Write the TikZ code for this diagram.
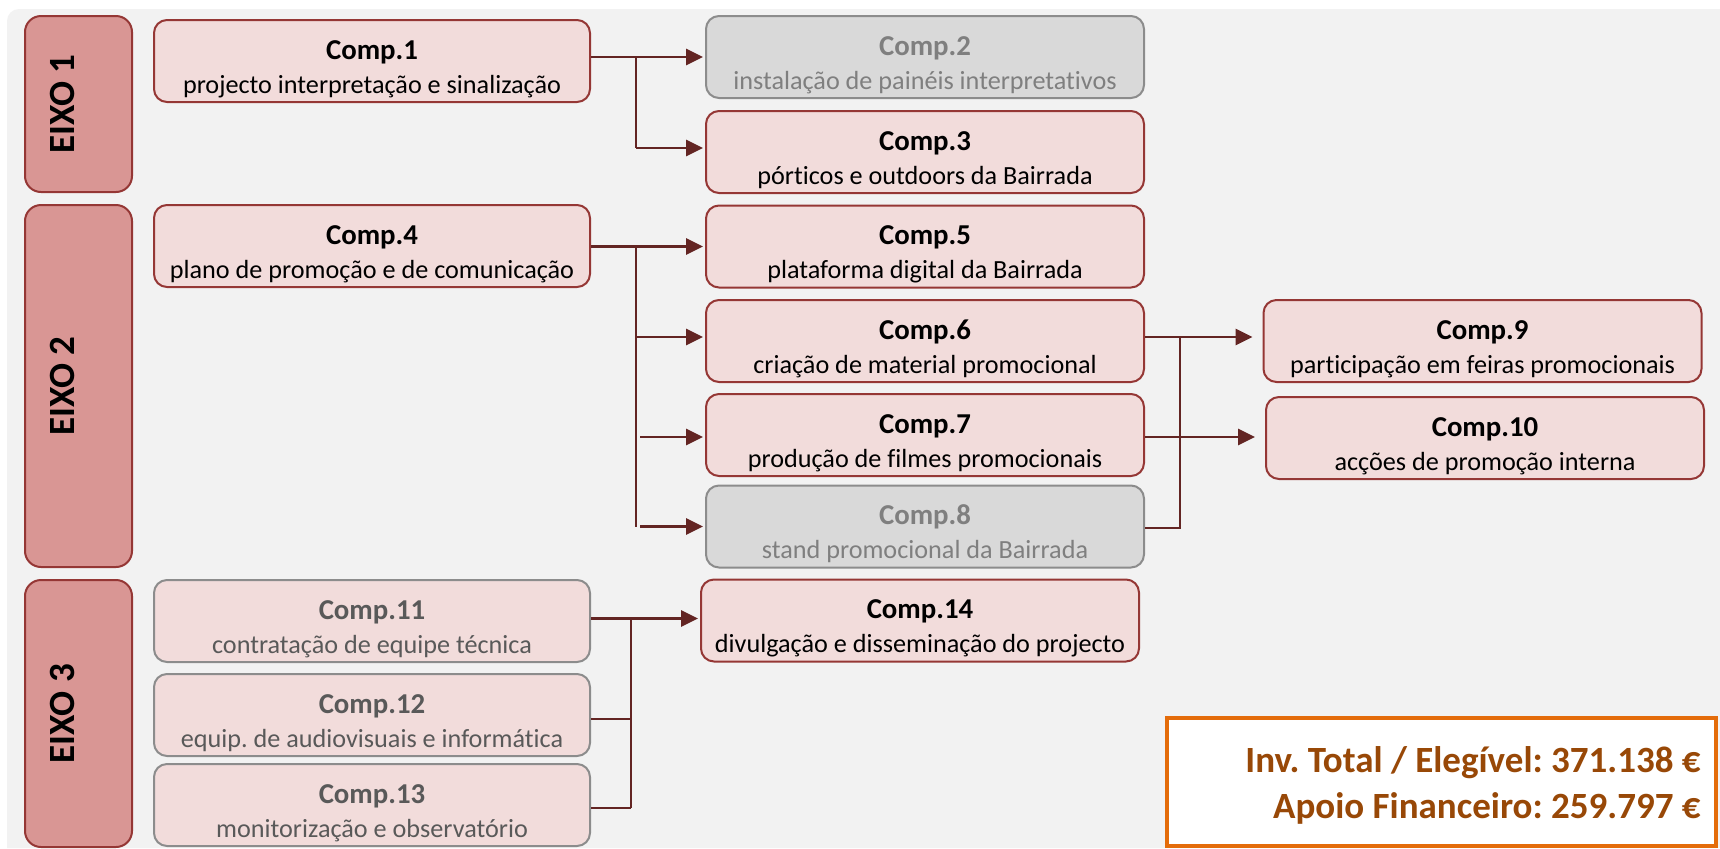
\documentclass[tikz,border=0pt]{standalone}
\usepackage{fontspec}
\setmainfont{Carlito}[Ligatures=CommonOff]
\frenchspacing
\usetikzlibrary{arrows.meta}
\definecolor{bgc}{HTML}{F2F2F2}
\definecolor{eixofill}{HTML}{D99694}
\definecolor{redline}{HTML}{953735}
\definecolor{pinkfill}{HTML}{F2DCDB}
\definecolor{greyfill}{HTML}{D9D9D9}
\definecolor{greyline}{HTML}{8C8C8C}
\definecolor{greytext}{HTML}{7F7F7F}
\definecolor{darktext}{HTML}{595959}
\definecolor{arrowc}{HTML}{632523}
\definecolor{orangec}{HTML}{E46C0A}
\definecolor{brownc}{HTML}{984807}
\newcommand{\mkcomp}[7]{%
  \node[#2] (#1) at (#3,#4) {};
  \node[ttl, text=#7] (#1t) at ([yshift=-20pt]#1.north) {#5};
  \node[subt, text=#7] (#1s) at ([yshift=-37pt]#1.north) {#6};
}
\begin{document}
\begin{tikzpicture}[x=0.5pt,y=-0.5pt,
  compbox/.style={draw, rounded corners=6.5pt, line width=1pt, minimum height=41pt, inner sep=0pt},
  pinkbox/.style={compbox, fill=pinkfill, draw=redline},
  greybox/.style={compbox, fill=greyfill, draw=greyline},
  mixbox/.style={compbox, fill=pinkfill, draw=greyline},
  leftw/.style={minimum width=218pt},
  midw/.style={minimum width=219pt},
  ttl/.style={anchor=base, font=\fontsize{14.4}{17}\selectfont\bfseries, inner sep=0pt},
  subt/.style={anchor=base, font=\fontsize{13.1}{16}\selectfont, inner sep=0pt},
  conn/.style={draw=arrowc, line width=1.4pt},
  arr/.style={conn, -{Triangle[length=8.5pt,width=8pt]}, shorten >=1pt},
  eixo/.style={draw=redline, fill=eixofill, line width=1pt, rounded corners=8pt, minimum width=53.5pt, inner sep=0pt},
  eixot/.style={rotate=90, anchor=base, font=\fontsize{18.5}{20}\selectfont\bfseries, inner sep=0pt},
  fin/.style={anchor=base east, font=\fontsize{18.5}{20}\selectfont\bfseries, text=brownc, inner sep=0pt},
]
\useasboundingbox (0,0) rectangle (1720,848);
\fill[white] (0,0) rectangle (1720,848);
\fill[bgc] (1720,848) -- (7,848) [rounded corners=6pt] -- (7,9) [sharp corners] -- (1720,9) -- cycle;

% EIXO boxes
\node[eixo, minimum height=88pt] (e1) at (78.5,104) {};
\node[eixot] (e1t) at (75,104) {EIXO 1};
\node[eixo, minimum height=181pt] (e2) at (78.5,386) {};
\node[eixot] (e2t) at (75,386) {EIXO 2};
\node[eixo, minimum height=133.5pt] (e3) at (78.5,713.5) {};
\node[eixot] (e3t) at (75,713.5) {EIXO 3};

% components
\mkcomp{c1}{pinkbox,leftw}{372}{61}{Comp.1}{projecto interpretação e sinalização}{black}
\mkcomp{c4}{pinkbox,leftw}{372}{246}{Comp.4}{plano de promoção e de comunicação}{black}
\mkcomp{c11}{mixbox,leftw}{372}{621}{Comp.11}{contratação de equipe técnica}{darktext}
\mkcomp{c12}{mixbox,leftw}{372}{715}{Comp.12}{equip. de audiovisuais e informática}{darktext}
\mkcomp{c13}{mixbox,leftw}{372}{805}{Comp.13}{monitorização e observatório}{darktext}

\mkcomp{c2}{greybox,midw}{925}{57}{Comp.2}{instalação de painéis interpretativos}{greytext}
\mkcomp{c3}{pinkbox,midw}{925}{152}{Comp.3}{pórticos e outdoors da Bairrada}{black}
\mkcomp{c5}{pinkbox,midw}{925}{246.5}{Comp.5}{plataforma digital da Bairrada}{black}
\mkcomp{c6}{pinkbox,midw}{925}{341}{Comp.6}{criação de material promocional}{black}
\mkcomp{c7}{pinkbox,midw}{925}{435}{Comp.7}{produção de filmes promocionais}{black}
\mkcomp{c8}{greybox,midw}{925}{526.5}{Comp.8}{stand promocional da Bairrada}{greytext}
\mkcomp{c14}{pinkbox,midw}{920}{620.5}{Comp.14}{divulgação e disseminação do projecto}{black}

\mkcomp{c9}{pinkbox,midw}{1482.5}{341}{Comp.9}{participação em feiras promocionais}{black}
\mkcomp{c10}{pinkbox,midw}{1485}{438}{Comp.10}{acções de promoção interna}{black}

% finance box
\node[draw=orangec, fill=white, line width=2pt, minimum width=274.5pt, minimum height=64pt, inner sep=0pt] (fb) at (1441.5,782) {};
\node[fin] (f1) at (1701,772) {Inv. Total / Elegível: 371.138 €};
\node[fin] (f2) at (1701,818) {Apoio Financeiro: 259.797 €};

% entry points
\coordinate (c3in) at ([yshift=2pt]c3.west);
\coordinate (c6in) at ([yshift=2pt]c6.west);
\coordinate (c7in) at ([yshift=-1pt]c7.west);
\coordinate (c9in) at ([yshift=2pt]c9.west);
\coordinate (c10in) at ([yshift=0.5pt]c10.west);
\coordinate (c14in) at ([yshift=1pt]c14.west);
\coordinate (c8out) at ([yshift=-0.75pt]c8.east);
\coordinate (c12out) at ([yshift=-2pt]c12.east);
\coordinate (c13out) at ([yshift=-1.5pt]c13.east);

% connectors group 1
\coordinate (j1) at (636,57);
\draw[arr] (c1.east |- c2.west) -- (c2.west);
\draw[conn] (j1) -- (j1 |- c3in);
\draw[arr] (j1 |- c3in) -- (c3in);

% connectors group 2
\coordinate (j2) at (636,246.5);
\coordinate (j2b) at (640,246.5);
\draw[arr] (c4.east |- c5.west) -- (c5.west);
\draw[conn] (j2) -- (j2 |- c8.west);
\draw[arr] (j2 |- c6in) -- (c6in);
\draw[arr] (j2b |- c7in) -- (c7in);
\draw[arr] (j2b |- c8.west) -- (c8.west);

% connectors group 3
\coordinate (j3) at (1180,337);
\draw[arr, shorten >=5pt] (c6.east |- c9in) -- (c9in);
\draw[arr, shorten >=5pt] (c7.east |- c10in) -- (c10in);
\draw[conn] (c8out) -| (j3);

% connectors group 4
\coordinate (j4) at (631,618);
\draw[arr] (c11.east |- c14in) -- (c14in);
\draw[conn] (j4) -- (j4 |- c13out);
\draw[conn] (c12out) -- (j4 |- c12out);
\draw[conn] (c13out) -- (j4 |- c13out);
\end{tikzpicture}
\end{document}
